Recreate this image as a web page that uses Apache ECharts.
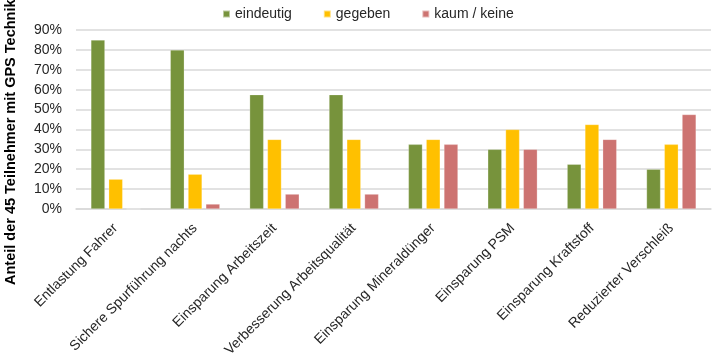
<!DOCTYPE html>
<html>
<head>
<meta charset="utf-8">
<script src="https://cdn.jsdelivr.net/npm/echarts@6/dist/echarts.min.js"></script>
<style>html,body{margin:0;padding:0;background:#fff;}#c{width:720px;height:361px;}</style>
</head>
<body>
<div id="c"></div>
<script>
const categories = ["Entlastung Fahrer","Sichere Spurführung nachts","Einsparung Arbeitszeit","Verbesserung Arbeitsqualität","Einsparung Mineraldünger","Einsparung PSM","Einsparung Kraftstoff","Reduzierter Verschleiß"];
const eindeutig = [85, 80, 57.5, 57.5, 32.5, 30, 22.5, 20];
const gegeben = [15, 17.5, 35, 35, 35, 40, 42.5, 32.5];
const kaumKeine = [0, 2.5, 7.5, 7.5, 32.5, 30, 35, 47.5];
const seriesNames = ["eindeutig", "gegeben", "kaum / keine"];
const yTicks = [0, 10, 20, 30, 40, 50, 60, 70, 80, 90];
const yTitle = "Anteil der 45 Teilnehmer mit GPS Technik";

const colors = ["#77933C", "#FFC000", "#CD7371"];
const font = "Liberation Sans, Arial, sans-serif";
const chart = echarts.init(document.getElementById('c'));
chart.setOption({
  animation: false,
  color: colors,
  textStyle: {fontFamily: font},
  legend: {
    top: 2, left: 217, icon: 'rect', itemWidth: 7, itemHeight: 7, itemGap: 31,
    textStyle: {fontSize: 14, color: '#262626', fontFamily: font},
    data: seriesNames
  },
  grid: {left: 76, right: 9, top: 30, bottom: 152, containLabel: false},
  xAxis: {
    type: 'category', data: categories,
    axisLine: {lineStyle: {color: '#D9D9D9', width: 1.5}},
    axisTick: {show: false},
    axisLabel: {rotate: 45, interval: 0, fontSize: 14, color: '#262626', margin: 17, fontFamily: font}
  },
  yAxis: {
    type: 'value', min: yTicks[0], max: yTicks[yTicks.length - 1], interval: 10,
    axisLabel: {formatter: '{value}%', fontSize: 14, color: '#262626', margin: 14, fontFamily: font},
    splitLine: {lineStyle: {color: '#D9D9D9', width: 1.5}},
    axisLine: {show: false}, axisTick: {show: false}
  },
  graphic: [{
    type: 'text', x: 11, y: 285, rotation: Math.PI / 2,
    style: {text: yTitle, font: 'bold 14.5px ' + font, fill: '#000', align: 'left', verticalAlign: 'middle'}
  }],
  series: [
    {name: seriesNames[0], type: 'bar', data: eindeutig, barWidth: 14, barGap: '27%', itemStyle: {borderColor: 'rgba(255,255,255,0.5)', borderWidth: 0.5}},
    {name: seriesNames[1], type: 'bar', data: gegeben, barWidth: 14, barGap: '27%', itemStyle: {borderColor: 'rgba(255,255,255,0.5)', borderWidth: 0.5}},
    {name: seriesNames[2], type: 'bar', data: kaumKeine, barWidth: 14, barGap: '27%', itemStyle: {borderColor: 'rgba(255,255,255,0.5)', borderWidth: 0.5}}
  ]
});
</script>
</body>
</html>
